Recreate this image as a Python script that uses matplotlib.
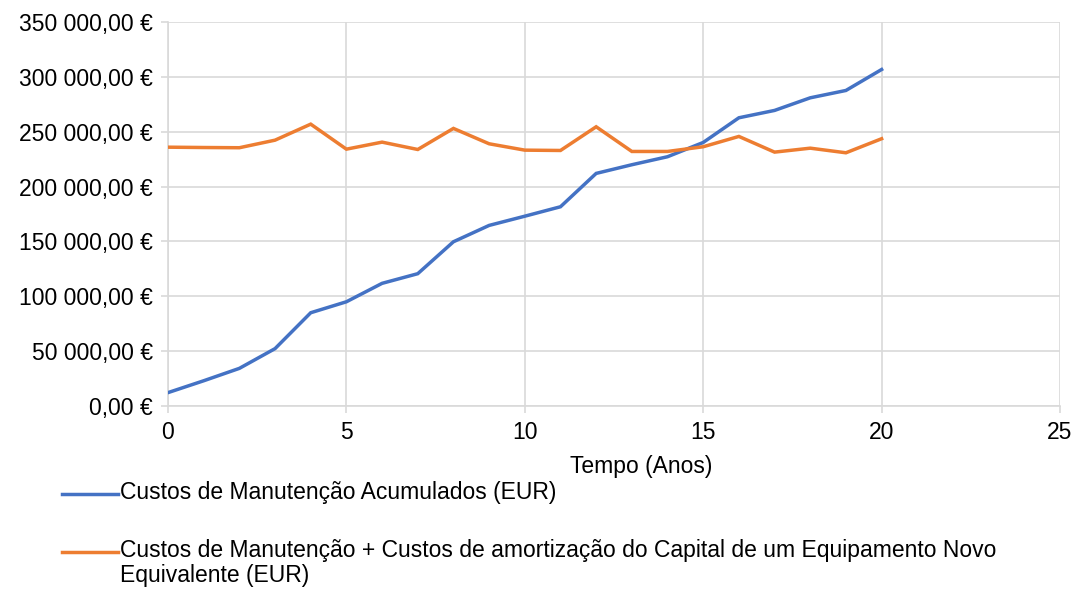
import numpy as np
import matplotlib
matplotlib.use('Agg')
import matplotlib.pyplot as plt
from matplotlib.lines import Line2D
from matplotlib.ticker import FuncFormatter, MultipleLocator

plt.rcParams['font.family'] = ['Liberation Sans', 'DejaVu Sans']

years = list(range(21))
acumulados = [12200, 23000, 34300, 52300, 85000, 95000, 111800, 120600, 149700, 164600,
              173000, 181600, 212000, 219900, 227200, 240200, 262700, 269400, 280900, 287600,
              306700]
amortizacao = [235900, 235600, 235400, 242300, 256900, 234100, 240500, 233800, 253000, 239000,
               233200, 232900, 254500, 232000, 232000, 236300, 245700, 231400, 235000, 230800,
               243600]
series_labels = ['Custos de Manutenção Acumulados (EUR)',
                 'Custos de Manutenção + Custos de amortização do Capital de um Equipamento Novo\nEquivalente (EUR)']
series_colors = ['#4472C4', '#ED7D31']
x_label = 'Tempo (Anos)'

GRID = '#d9d9d9'
FS = 16.5


def euro(v, pos=None):
	s = f'{v:,.2f}'.replace(',', ' ').replace('.', ',')
	return s + ' €'


fig = plt.figure(figsize=(10.78, 5.92), dpi=100)
ax = fig.add_axes([168 / 1078, 1 - 406 / 592, 892 / 1078, 384 / 592])

for vals, col in zip([acumulados, amortizacao], series_colors):
	ax.plot(years, vals, color=col, lw=2.5, solid_joinstyle='miter', zorder=3)

ax.set_xlim(0, 25)
ax.set_ylim(0, 350000)
ax.xaxis.set_major_locator(MultipleLocator(5))
ax.yaxis.set_major_locator(MultipleLocator(50000))
ax.yaxis.set_major_formatter(FuncFormatter(euro))
ax.grid(True, color=GRID, lw=1.2, zorder=0)
ax.set_axisbelow(True)
for side in ['top', 'right']:
	ax.spines[side].set_visible(False)
for side in ['left', 'bottom']:
	ax.spines[side].set_color(GRID)
	ax.spines[side].set_linewidth(1.2)
ax.tick_params(axis='both', colors=GRID, labelcolor='black', labelsize=FS, length=5, width=1.2)
ax.tick_params(axis='y', pad=6)
ax.tick_params(axis='x', pad=6)

ax.set_xlabel(x_label, fontsize=FS)
ax.xaxis.set_label_coords((641 - 168) / 892, (406 - 467) / 384)
ax.xaxis.label.set_va('center')

# legend below the axes
legend_y = [494, 552]
for ypx, lab, col in zip(legend_y, series_labels, series_colors):
	yf = 1 - ypx / 592
	fig.add_artist(Line2D([62 / 1078, 118 / 1078], [yf, yf], color=col, lw=2.5,
	                      transform=fig.transFigure))
	fig.text(120 / 1078, yf + 13 / 592, lab, fontsize=FS, va='top', ha='left',
	         linespacing=1.1)

fig.savefig('out.png', dpi=100)
